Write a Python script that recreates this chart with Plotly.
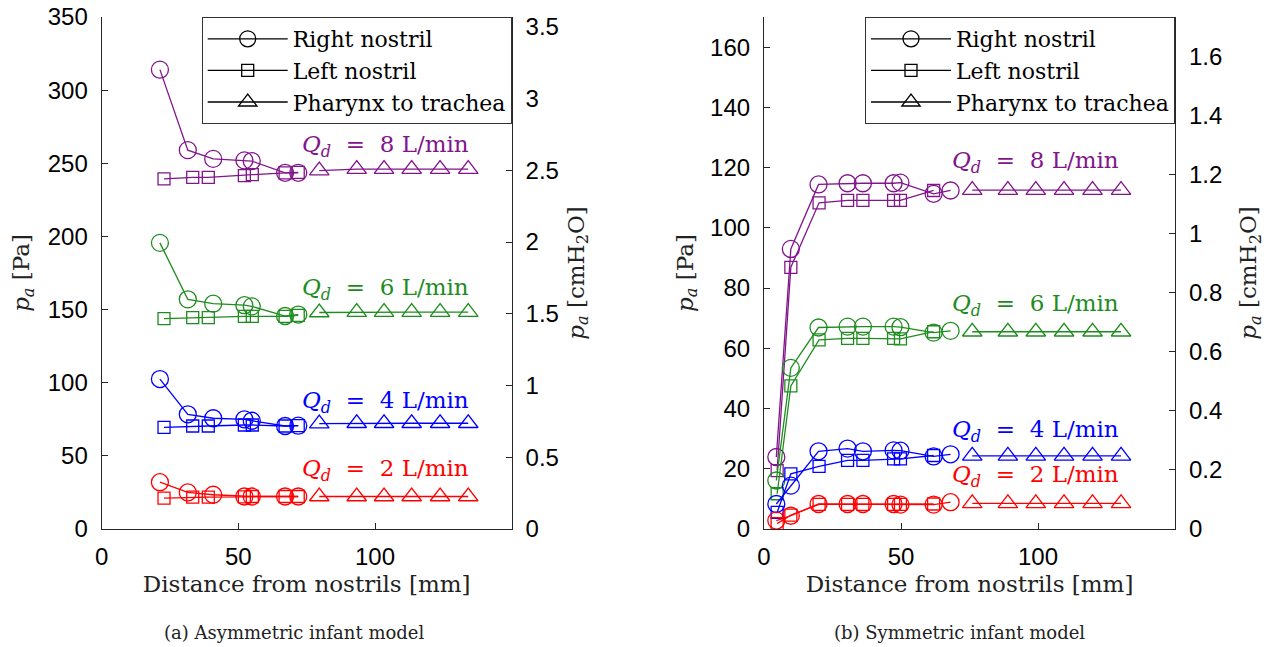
import plotly.graph_objects as go

# ---------------- data: (a) asymmetric infant model ----------------
flows = ["8", "6", "4", "2"]
colors = ["rgb(130,20,140)", "rgb(30,140,30)", "rgb(0,0,255)", "rgb(255,0,0)"]

a_right_x = [21.3, 31.5, 40.8, 52.2, 54.9, 67.1, 71.9]
a_left_x = [22.8, 33.3, 39.0, 52.2, 55.1, 67.1, 71.9]
a_phar_x = [79.6, 93.3, 103.3, 113.4, 123.8, 134.1]

a_right_y = {
    "8": [314, 259, 253, 252, 251.5, 243.5, 243.5],
    "6": [195.6, 157, 154, 153, 152.2, 145.6, 146.6],
    "4": [102.5, 78.4, 75.7, 75, 74, 70.4, 70.6],
    "2": [32, 25, 23.4, 22.2, 22.2, 22.2, 22.2],
}
a_left_y = {
    "8": [239.3, 240.4, 240.4, 241.5, 242.2, 243.4, 243.8],
    "6": [143.8, 144.5, 144.5, 145.4, 145.4, 145.4, 146.1],
    "4": [69.5, 70.4, 70.4, 71.1, 71.1, 70.4, 70.6],
    "2": [21.1, 21.8, 21.8, 22.0, 22.2, 22.2, 22.2],
}
a_phar_y = {
    "8": [245, 246, 246, 246, 246, 246],
    "6": [148, 148.3, 148.3, 148.3, 148.3, 148.3],
    "4": [72, 72.3, 72.3, 72.3, 72.3, 72.3],
    "2": [22.2, 22.2, 22.2, 22.2, 22.2, 22.2],
}
a_label_y = {"8": 262, "6": 164, "4": 87, "2": 40}

# ---------------- data: (b) symmetric infant model ----------------
b_right_x = [4.5, 9.8, 19.9, 30.5, 36.1, 47.3, 49.8, 61.9, 68.1]
b_left_x = [4.8, 9.8, 20.1, 30.5, 36.1, 47.3, 49.8, 61.9]
b_phar_x = [76.0, 89.0, 99.2, 109.5, 119.9, 130.3]

b_right_y = {
    "8": [23.9, 93, 114.4, 114.8, 114.8, 114.8, 115, 111.3, 112.4],
    "6": [16.1, 53.5, 66.9, 67.2, 67.2, 67.2, 67.0, 65.2, 65.8],
    "4": [8.3, 14.4, 25.8, 26.7, 25.8, 26.1, 26.0, 24.1, 24.8],
    "2": [2.8, 4.4, 8.3, 8.3, 8.3, 8.3, 8.1, 8.1, 8.9],
}
b_left_y = {
    "8": [19.4, 86.9, 108.3, 109.1, 109.1, 109.1, 109.1, 112.4],
    "6": [11.7, 47.5, 62.8, 63.3, 63.3, 63.3, 63.1, 65.5],
    "4": [5.5, 18.3, 20.8, 22.8, 22.8, 23.3, 23.3, 24.4],
    "2": [1.8, 4.6, 8.2, 8.2, 8.2, 8.2, 8.2, 8.3],
}
b_phar_y = {
    "8": [112.5, 112.5, 112.5, 112.5, 112.5, 112.5],
    "6": [65.5, 65.5, 65.5, 65.5, 65.5, 65.5],
    "4": [24.3, 24.3, 24.3, 24.3, 24.3, 24.3],
    "2": [8.5, 8.5, 8.5, 8.5, 8.5, 8.5],
}
b_label_y = {"8": 122, "6": 74.5, "4": 32.5, "2": 17.5}

legend_names = ["Right nostril", "Left nostril", "Pharynx to trachea"]
legend_symbols = ["circle-open", "square-open", "triangle-up-open"]
caption_a = "(a) Asymmetric infant model"
caption_b = "(b) Symmetric infant model"
x_title = "Distance from nostrils [mm]"

PA_PER_CMH2O = 98.0665

SERIF = "DejaVu Serif"
SANS = "Liberation Sans"
AXC = "#262626"
MSIZE = {"circle-open": 17, "square-open": 12, "triangle-up-open": 17}

# figure canvas (page has an 8px body margin)
W, H = 1265, 639
OFF = 8

fig = go.Figure()


def add_series(xv, yv, sym, col, xa, ya):
    fig.add_trace(go.Scatter(
        x=xv, y=yv, mode="lines+markers", xaxis=xa, yaxis=ya,
        line=dict(color=col, width=1.3),
        marker=dict(symbol=sym, size=MSIZE[sym], color=col, line=dict(width=1.3, color=col)),
        showlegend=False, hoverinfo="skip"))


for f, c in zip(flows, colors):
    add_series(a_right_x, a_right_y[f], "circle-open", c, "x", "y")
    add_series(a_left_x, a_left_y[f], "square-open", c, "x", "y")
    add_series(a_phar_x, a_phar_y[f], "triangle-up-open", c, "x", "y")
    add_series(b_right_x, b_right_y[f], "circle-open", c, "x2", "y2")
    add_series(b_left_x, b_left_y[f], "square-open", c, "x2", "y2")
    add_series(b_phar_x, b_phar_y[f], "triangle-up-open", c, "x2", "y2")

# empty traces so that the secondary (cmH2O) axes get drawn
for xa, ya in [("x", "y3"), ("x2", "y4")]:
    fig.add_trace(go.Scatter(x=[None], y=[None], xaxis=xa, yaxis=ya, mode="lines",
                             showlegend=False, hoverinfo="skip"))

# legend entries (black)
for lg, xa, ya in [("legend", "x", "y"), ("legend2", "x2", "y2")]:
    for nm, sym in zip(legend_names, legend_symbols):
        fig.add_trace(go.Scatter(
            x=[None], y=[None], mode="lines+markers", name=nm, legend=lg,
            xaxis=xa, yaxis=ya,
            line=dict(color="black", width=1.3),
            marker=dict(symbol=sym, size=MSIZE[sym], color="black", line=dict(width=1.3, color="black"))))

annotations = []
for f, c in zip(flows, colors):
    txt = "<i>Q</i><sub><i>d</i></sub>&nbsp;&nbsp;=&nbsp;&nbsp;" + f + " L/min"
    annotations.append(dict(
        x=135, y=a_label_y[f], xref="x", yref="y", xanchor="right", yanchor="middle",
        text=txt, showarrow=False, font=dict(family=SERIF, size=23, color=c)))
    annotations.append(dict(
        x=130.3, y=b_label_y[f], xref="x2", yref="y2", xanchor="right", yanchor="middle",
        text=txt, showarrow=False, font=dict(family=SERIF, size=23, color=c)))

for cap, xc in [(caption_a, 294), (caption_b, 959)]:
    annotations.append(dict(
        x=(xc - OFF) / W, y=(H - (632 - OFF)) / H, xref="paper", yref="paper",
        xanchor="center", yanchor="middle",
        text=cap, showarrow=False, font=dict(family=SERIF, size=18, color="#222")))

xdomA = [(101.7 - OFF) / W, (511.7 - OFF) / W]
xdomB = [(764 - OFF) / W, (1175 - OFF) / W]
ydom = [(H - (529 - OFF)) / H, (H - (17 - OFF)) / H]

tickfont = dict(family=SANS, size=24, color="black")
common = dict(showgrid=False, zeroline=False, showline=True, linecolor=AXC, linewidth=1.2,
              ticks="inside", ticklen=6, tickcolor=AXC, tickwidth=1.2, tickfont=tickfont,
              ticklabeloverflow="allow")

pa_title = "<i>p</i><sub><i>a</i></sub> [Pa]"
cm_title = "<i>p</i><sub><i>a</i></sub> [cmH<sub>2</sub>O]"
title_font = dict(family=SERIF, size=23, color="#222")

a_yticks = [0, 50, 100, 150, 200, 250, 300, 350]
a_y2ticks = [0, 0.5, 1, 1.5, 2, 2.5, 3, 3.5]
b_yticks = [0, 20, 40, 60, 80, 100, 120, 140, 160]
b_y2ticks = [0, 0.2, 0.4, 0.6, 0.8, 1, 1.2, 1.4, 1.6]
x_ticks = [0, 50, 100]


def lbl(v):
    return ("%g" % v)


legend_common = dict(yanchor="top", xanchor="right", bgcolor="white",
                     bordercolor="#333", borderwidth=1,
                     font=dict(family=SERIF, size=22, color="black"),
                     itemwidth=80, tracegroupgap=0)

fig.update_layout(
    width=W, height=H, margin=dict(l=0, r=0, t=0, b=0),
    paper_bgcolor="white", plot_bgcolor="white",
    xaxis=dict(domain=xdomA, range=[0, 150], anchor="y", tickvals=x_ticks,
               title=dict(text=x_title, font=title_font, standoff=6), ticklabelstandoff=6, **common),
    yaxis=dict(domain=ydom, range=[0, 350], anchor="x", tickvals=a_yticks,
               title=dict(text=pa_title, font=title_font, standoff=14), ticklabelstandoff=8, **common),
    yaxis3=dict(overlaying="y", side="right", anchor="x", range=[0, 350 / PA_PER_CMH2O],
                tickvals=a_y2ticks, ticktext=[lbl(v) for v in a_y2ticks],
                title=dict(text=cm_title, font=title_font, standoff=9), ticklabelstandoff=8, **common),
    xaxis2=dict(domain=xdomB, range=[0, 150], anchor="y2", tickvals=x_ticks,
                title=dict(text=x_title, font=title_font, standoff=6), ticklabelstandoff=6, **common),
    yaxis2=dict(domain=ydom, range=[0, 170], anchor="x2", tickvals=b_yticks,
                title=dict(text=pa_title, font=title_font, standoff=10), ticklabelstandoff=8, **common),
    yaxis4=dict(overlaying="y2", side="right", anchor="x2", range=[0, 170 / PA_PER_CMH2O],
                tickvals=b_y2ticks, ticktext=[lbl(v) for v in b_y2ticks],
                title=dict(text=cm_title, font=title_font, standoff=18), ticklabelstandoff=8, **common),
    legend=dict(x=xdomA[1], y=ydom[1], **legend_common),
    legend2=dict(x=xdomB[1], y=ydom[1], **legend_common),
    annotations=annotations,
)
for ax in ["xaxis", "yaxis", "yaxis3", "xaxis2", "yaxis2", "yaxis4"]:
    fig.layout[ax].automargin = False

fig.write_html("out.html")
